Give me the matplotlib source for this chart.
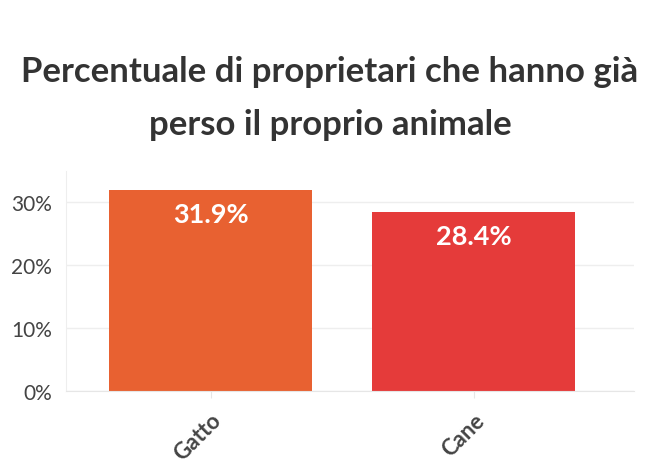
import numpy as np
import matplotlib.pyplot as plt

categorie = ["Gatto", "Cane"]
percentuali = [31.9, 28.4]
colori = ["#E86131", "#E53B3A"]
yticks = [0, 10, 20, 30]

plt.rcParams['font.family'] = ['Lato', 'DejaVu Sans']

fig = plt.figure(figsize=(6.6, 4.77), dpi=100)
ax = fig.add_axes([66/660, 1-392/477, (634-66)/660, (392-172)/477])

x = np.arange(len(categorie))
bars = ax.bar(x, percentuali, width=0.77, color=colori, zorder=2)

for b, v in zip(bars, percentuali):
    ax.text(b.get_x() + b.get_width()/2, v - 1.8, f"{v}%", ha="center", va="top",
            color="white", fontsize=19.5, fontweight="bold", zorder=3)

ax.set_xlim(-0.55, 1.61)
ax.set_ylim(0, 35)
ax.set_yticks(yticks)
ax.set_yticklabels([f"{t}%" for t in yticks], fontsize=15, color="#444444")
ax.set_xticks(x)
ax.set_xticklabels(categorie, rotation=45, ha="right", rotation_mode="anchor",
                   fontsize=16, fontweight="bold", color="#444444")
ax.tick_params(axis="y", length=0, pad=10)
ax.tick_params(axis="x", length=5, color="#E6E6E6", pad=8)
ax.grid(axis="y", color="#EEEEEE", lw=1, zorder=0)
for s in ["top", "right"]:
    ax.spines[s].set_visible(False)
ax.spines["left"].set_color("#EEEEEE")
ax.spines["bottom"].set_color("#E6E6E6")

fig.text(0.5, 1-72/477, "Percentuale di proprietari che hanno già", ha="center", va="center",
         fontsize=25, fontweight="bold", color="#333333")
fig.text(0.5, 1-125/477, "perso il proprio animale", ha="center", va="center",
         fontsize=25, fontweight="bold", color="#333333")

fig.savefig("out.png", dpi=100)
